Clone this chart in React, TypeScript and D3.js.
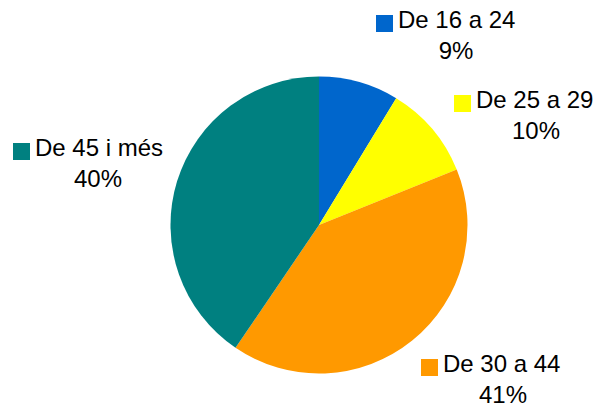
import React, { useEffect, useRef } from 'react';
import * as d3 from 'd3';

// age groups and their share
const categories = ['De 16 a 24', 'De 25 a 29', 'De 30 a 44', 'De 45 i més'];
const values = [8.7, 10.2, 40.6, 40.5];
const pctLabels = ['9%', '10%', '41%', '40%'];
const colors = ['#0066CC', '#FFFF00', '#FF9900', '#008080'];

// label placement (text start x, first baseline y, percent centre x)
const labelPos = [
  { x: 398, y: 28, px: 456 },
  { x: 476, y: 108, px: 536 },
  { x: 443, y: 372, px: 503 },
  { x: 35, y: 156, px: 98 },
];

const App = () => {
  const svgRef = useRef<SVGSVGElement | null>(null);

  useEffect(() => {
    document.body.style.margin = '0';
    const width = 597;
    const height = 408;
    const cx = 319;
    const cy = 225;
    const radius = 148.5;

    const svg = d3.select(svgRef.current)
      .attr('width', width)
      .attr('height', height);

    svg.selectAll('*').remove();

    const pie = d3.pie<number>().sort(null).value(d => d);
    const arc = d3.arc<d3.PieArcDatum<number>>().innerRadius(0).outerRadius(radius);

    // slices
    svg.append('g')
      .attr('transform', `translate(${cx},${cy})`)
      .selectAll('path')
      .data(pie(values))
      .join('path')
      .attr('d', arc)
      .attr('fill', (d, i) => colors[i]);

    // labels
    const lab = svg.append('g')
      .attr('font-family', 'Arial, "Liberation Sans", sans-serif')
      .attr('font-size', 24)
      .attr('fill', '#000');

    categories.forEach((c, i) => {
      const p = labelPos[i];
      lab.append('rect')
        .attr('x', p.x - 22)
        .attr('y', p.y - 13)
        .attr('width', 17)
        .attr('height', 17)
        .attr('fill', colors[i]);
      lab.append('text')
        .attr('x', p.x)
        .attr('y', p.y)
        .text(c);
      lab.append('text')
        .attr('x', p.px)
        .attr('y', p.y + 31)
        .attr('text-anchor', 'middle')
        .text(pctLabels[i]);
    });
  }, []);

  return (
    <svg ref={svgRef} style={{ display: 'block' }}></svg>
  );
};

export default App;
